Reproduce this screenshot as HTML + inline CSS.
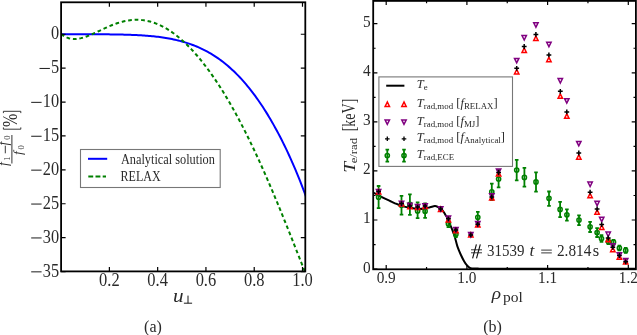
<!DOCTYPE html>
<html><head><meta charset="utf-8"><style>
html,body{margin:0;padding:0;background:#fff;width:637px;height:335px;overflow:hidden}
svg{display:block;font-family:"Liberation Serif",serif}
text{fill:#2a2a2a}
</style></head><body>
<svg width="637" height="335" viewBox="0 0 637 335" style="will-change:transform">
<rect width="637" height="335" fill="#fff"/>
<defs><clipPath id="cl"><rect x="61.1" y="2.3" width="244.2" height="269.1"/></clipPath>
<clipPath id="cr"><rect x="373.2" y="0.9" width="262.7" height="268.4"/></clipPath></defs>
<g clip-path="url(#cl)" fill="none" stroke-width="2">
<path d="M61.10 34.25 L62.64 34.25 L64.18 34.25 L65.72 34.25 L67.26 34.25 L68.80 34.25 L70.34 34.25 L71.88 34.25 L73.42 34.25 L74.96 34.25 L76.50 34.25 L78.04 34.25 L79.58 34.25 L81.12 34.25 L82.66 34.25 L84.20 34.26 L85.74 34.26 L87.28 34.26 L88.82 34.26 L90.36 34.26 L91.91 34.27 L93.45 34.27 L94.99 34.28 L96.53 34.28 L98.07 34.29 L99.61 34.30 L101.15 34.30 L102.69 34.31 L104.23 34.32 L105.77 34.33 L107.31 34.35 L108.85 34.36 L110.39 34.38 L111.93 34.40 L113.47 34.42 L115.01 34.44 L116.55 34.46 L118.09 34.49 L119.63 34.52 L121.17 34.55 L122.71 34.59 L124.25 34.63 L125.79 34.67 L127.33 34.72 L128.87 34.77 L130.41 34.82 L131.95 34.88 L133.49 34.94 L135.03 35.01 L136.57 35.08 L138.11 35.16 L139.65 35.25 L141.19 35.34 L142.73 35.44 L144.27 35.54 L145.81 35.65 L147.35 35.77 L148.89 35.90 L150.43 36.04 L151.97 36.18 L153.52 36.34 L155.06 36.50 L156.60 36.68 L158.14 36.86 L159.68 37.06 L161.22 37.26 L162.76 37.48 L164.30 37.72 L165.84 37.96 L167.38 38.22 L168.92 38.50 L170.46 38.78 L172.00 39.09 L173.54 39.41 L175.08 39.74 L176.62 40.10 L178.16 40.47 L179.70 40.86 L181.24 41.26 L182.78 41.69 L184.32 42.14 L185.86 42.61 L187.40 43.10 L188.94 43.61 L190.48 44.14 L192.02 44.70 L193.56 45.28 L195.10 45.89 L196.64 46.52 L198.18 47.18 L199.72 47.87 L201.26 48.58 L202.80 49.32 L204.34 50.09 L205.88 50.89 L207.42 51.72 L208.96 52.58 L210.50 53.47 L212.04 54.39 L213.58 55.35 L215.13 56.34 L216.67 57.37 L218.21 58.43 L219.75 59.52 L221.29 60.65 L222.83 61.82 L224.37 63.03 L225.91 64.27 L227.45 65.55 L228.99 66.87 L230.53 68.23 L232.07 69.64 L233.61 71.08 L235.15 72.57 L236.69 74.09 L238.23 75.66 L239.77 77.28 L241.31 78.94 L242.85 80.64 L244.39 82.39 L245.93 84.18 L247.47 86.02 L249.01 87.90 L250.55 89.84 L252.09 91.82 L253.63 93.85 L255.17 95.93 L256.71 98.05 L258.25 100.23 L259.79 102.46 L261.33 104.74 L262.87 107.07 L264.41 109.45 L265.95 111.89 L267.49 114.38 L269.03 116.92 L270.57 119.52 L272.11 122.17 L273.65 124.88 L275.19 127.64 L276.74 130.47 L278.28 133.35 L279.82 136.29 L281.36 139.29 L282.90 142.36 L284.44 145.48 L285.98 148.67 L287.52 151.93 L289.06 155.25 L290.60 158.64 L292.14 162.09 L293.68 165.62 L295.22 169.23 L296.76 172.90 L298.30 176.66 L299.84 180.49 L301.38 184.41 L302.92 188.41 L304.46 192.49 L306.00 196.67" stroke="#0000ff"/>
<path d="M61.10 33.93 L62.63 35.14 L64.17 36.15 L65.70 36.99 L67.24 37.67 L68.77 38.20 L70.30 38.58 L71.84 38.83 L73.37 38.96 L74.91 38.99 L76.44 38.91 L77.97 38.73 L79.51 38.48 L81.04 38.15 L82.58 37.75 L84.11 37.29 L85.64 36.78 L87.18 36.22 L88.71 35.62 L90.25 34.99 L91.78 34.33 L93.31 33.65 L94.85 32.95 L96.38 32.23 L97.92 31.51 L99.45 30.79 L100.98 30.06 L102.52 29.34 L104.05 28.62 L105.58 27.92 L107.12 27.23 L108.65 26.56 L110.19 25.91 L111.72 25.28 L113.25 24.67 L114.79 24.10 L116.32 23.55 L117.86 23.03 L119.39 22.55 L120.92 22.10 L122.46 21.69 L123.99 21.32 L125.53 20.98 L127.06 20.68 L128.59 20.43 L130.13 20.22 L131.66 20.05 L133.20 19.92 L134.73 19.84 L136.26 19.81 L137.80 19.82 L139.33 19.87 L140.87 19.97 L142.40 20.12 L143.93 20.32 L145.47 20.56 L147.00 20.85 L148.54 21.18 L150.07 21.57 L151.60 22.00 L153.14 22.48 L154.67 23.00 L156.21 23.58 L157.74 24.20 L159.27 24.86 L160.81 25.58 L162.34 26.34 L163.88 27.15 L165.41 28.00 L166.94 28.90 L168.48 29.85 L170.01 30.84 L171.55 31.87 L173.08 32.96 L174.61 34.08 L176.15 35.26 L177.68 36.47 L179.22 37.73 L180.75 39.04 L182.28 40.39 L183.82 41.78 L185.35 43.22 L186.88 44.70 L188.42 46.22 L189.95 47.79 L191.49 49.40 L193.02 51.05 L194.55 52.74 L196.09 54.48 L197.62 56.26 L199.16 58.08 L200.69 59.94 L202.22 61.84 L203.76 63.79 L205.29 65.77 L206.83 67.80 L208.36 69.87 L209.89 71.98 L211.43 74.13 L212.96 76.32 L214.50 78.55 L216.03 80.83 L217.56 83.14 L219.10 85.50 L220.63 87.89 L222.17 90.33 L223.70 92.80 L225.23 95.32 L226.77 97.87 L228.30 100.47 L229.84 103.10 L231.37 105.77 L232.90 108.49 L234.44 111.24 L235.97 114.03 L237.51 116.87 L239.04 119.74 L240.57 122.64 L242.11 125.59 L243.64 128.58 L245.18 131.60 L246.71 134.66 L248.24 137.75 L249.78 140.89 L251.31 144.06 L252.85 147.26 L254.38 150.51 L255.91 153.78 L257.45 157.09 L258.98 160.44 L260.52 163.82 L262.05 167.23 L263.58 170.67 L265.12 174.14 L266.65 177.65 L268.18 181.18 L269.72 184.74 L271.25 188.34 L272.79 191.95 L274.32 195.60 L275.85 199.27 L277.39 202.96 L278.92 206.68 L280.46 210.42 L281.99 214.17 L283.52 217.95 L285.06 221.75 L286.59 225.56 L288.13 229.38 L289.66 233.22 L291.19 237.07 L292.73 240.93 L294.26 244.80 L295.80 248.67 L297.33 252.55 L298.86 256.43 L300.40 260.31 L301.93 264.19 L303.47 268.07 L305.00 271.94" stroke="#008000" stroke-dasharray="3.7 2.82"/>
</g>
<path d="M109.38 271.40V266.90 M109.38 2.30V6.80 M157.66 271.40V266.90 M157.66 2.30V6.80 M205.94 271.40V266.90 M205.94 2.30V6.80 M254.22 271.40V266.90 M254.22 2.30V6.80 M302.50 271.40V266.90 M302.50 2.30V6.80 M61.10 34.25H65.60 M305.30 34.25H300.80 M61.10 68.15H65.60 M305.30 68.15H300.80 M61.10 102.05H65.60 M305.30 102.05H300.80 M61.10 135.95H65.60 M305.30 135.95H300.80 M61.10 169.85H65.60 M305.30 169.85H300.80 M61.10 203.75H65.60 M305.30 203.75H300.80 M61.10 237.65H65.60 M305.30 237.65H300.80 M61.10 271.55H65.60 M305.30 271.55H300.80" stroke="#000" stroke-width="1.2" fill="none"/>
<rect x="61.1" y="2.3" width="244.2" height="269.1" fill="none" stroke="#000" stroke-width="1.8"/>
<text font-family="Liberation Serif" font-size="18.5" x="59.10" y="39.25" text-anchor="end" textLength="8.14" lengthAdjust="spacingAndGlyphs">0</text>
<text font-family="Liberation Serif" font-size="18.5" x="59.10" y="73.15" text-anchor="end" textLength="8.14" lengthAdjust="spacingAndGlyphs">5</text>
<text font-family="Liberation Serif" font-size="18.5" x="59.10" y="107.05" text-anchor="end" textLength="16.28" lengthAdjust="spacingAndGlyphs">10</text>
<text font-family="Liberation Serif" font-size="18.5" x="59.10" y="140.95" text-anchor="end" textLength="16.28" lengthAdjust="spacingAndGlyphs">15</text>
<text font-family="Liberation Serif" font-size="18.5" x="59.10" y="174.85" text-anchor="end" textLength="16.28" lengthAdjust="spacingAndGlyphs">20</text>
<text font-family="Liberation Serif" font-size="18.5" x="59.10" y="208.75" text-anchor="end" textLength="16.28" lengthAdjust="spacingAndGlyphs">25</text>
<text font-family="Liberation Serif" font-size="18.5" x="59.10" y="242.65" text-anchor="end" textLength="16.28" lengthAdjust="spacingAndGlyphs">30</text>
<text font-family="Liberation Serif" font-size="18.5" x="59.10" y="276.55" text-anchor="end" textLength="16.28" lengthAdjust="spacingAndGlyphs">35</text>
<path d="M39.50 68.45H49.90 M31.20 102.35H41.60 M31.20 136.25H41.60 M31.20 170.15H41.60 M31.20 204.05H41.60 M31.20 237.95H41.60 M31.20 271.85H41.60" stroke="#000" stroke-width="0.9"/>
<text font-family="Liberation Serif" font-size="18.5" x="109.38" y="285.70" text-anchor="middle" textLength="20.58" lengthAdjust="spacingAndGlyphs">0.2</text>
<text font-family="Liberation Serif" font-size="18.5" x="157.66" y="285.70" text-anchor="middle" textLength="20.58" lengthAdjust="spacingAndGlyphs">0.4</text>
<text font-family="Liberation Serif" font-size="18.5" x="205.94" y="285.70" text-anchor="middle" textLength="20.58" lengthAdjust="spacingAndGlyphs">0.6</text>
<text font-family="Liberation Serif" font-size="18.5" x="254.22" y="285.70" text-anchor="middle" textLength="20.58" lengthAdjust="spacingAndGlyphs">0.8</text>
<text font-family="Liberation Serif" font-size="18.5" x="302.50" y="285.70" text-anchor="middle" textLength="20.58" lengthAdjust="spacingAndGlyphs">1.0</text>
<text font-family="Liberation Serif" font-style="italic" font-size="18" x="173.1" y="301.6" textLength="10.6" lengthAdjust="spacingAndGlyphs">u</text>
<path d="M188 295.6V303.2M183.9 303.2H192.1" stroke="#000" stroke-width="0.9" fill="none"/>
<g transform="translate(0,170) rotate(-90)" font-family="Liberation Serif" fill="#000">
<path d="M6.5 11.9H35" stroke="#333" stroke-width="1"/>
<text x="4.0" y="7.6" font-size="14" font-style="italic">f</text>
<text x="9.3" y="10.2" font-size="8.5">1</text>
<path d="M16.7 5.3H24.3" stroke="#222" stroke-width="0.9"/>
<text x="24.6" y="7.6" font-size="14" font-style="italic">f</text>
<text x="30.2" y="10.2" font-size="8.5">0</text>
<text x="15.0" y="21.6" font-size="13.5" font-style="italic">f</text>
<text x="20.6" y="23.6" font-size="8.5">0</text>
<path d="M42.6 3.4H40.8V20.8H42.6M56.9 3.4H58.7V20.8H56.9" stroke="#222" stroke-width="0.9" fill="none"/>
<text x="42.96" y="16.9" font-size="20" textLength="13.2" lengthAdjust="spacingAndGlyphs">%</text>
</g>
<rect x="80.5" y="149.5" width="139.7" height="38" fill="#fff" stroke="#777" stroke-width="1.1"/>
<path d="M88 158.8H107.2" stroke="#0000ff" stroke-width="2"/>
<path d="M88.3 176.6H106" stroke="#008000" stroke-width="2" stroke-dasharray="4.9 2.3"/>
<text font-family="Liberation Serif" font-size="14" x="120.9" y="163.8" textLength="94" lengthAdjust="spacingAndGlyphs">Analytical solution</text>
<text font-family="Liberation Serif" font-size="14" x="120.6" y="181" textLength="40" lengthAdjust="spacingAndGlyphs">RELAX</text>
<text font-family="Liberation Serif" font-size="16" x="153" y="332" text-anchor="middle">(a)</text>
<g clip-path="url(#cr)">
<path d="M373.20 192.60 C374.00 193.00 376.03 194.00 378.00 195.00 C379.97 196.00 383.00 197.60 385.00 198.60 C387.00 199.60 388.33 200.22 390.00 201.00 C391.67 201.78 393.17 202.53 395.00 203.30 C396.83 204.07 398.50 204.85 401.00 205.60 C403.50 206.35 407.17 207.23 410.00 207.80 C412.83 208.37 415.50 208.90 418.00 209.00 C420.50 209.10 423.00 208.68 425.00 208.40 C427.00 208.12 428.37 207.68 430.00 207.30 C431.63 206.92 433.60 206.22 434.80 206.10 C436.00 205.98 436.25 206.15 437.20 206.60 C438.15 207.05 439.52 208.05 440.50 208.80 C441.48 209.55 442.30 210.12 443.10 211.10 C443.90 212.08 444.50 213.40 445.30 214.70 C446.10 216.00 447.17 217.40 447.90 218.90 C448.63 220.40 449.10 222.20 449.70 223.70 C450.30 225.20 450.90 226.42 451.50 227.90 C452.10 229.38 452.70 230.92 453.30 232.60 C453.90 234.28 454.42 235.70 455.10 238.00 C455.78 240.30 456.47 243.65 457.40 246.40 C458.33 249.15 459.58 252.03 460.70 254.50 C461.82 256.97 463.08 259.42 464.10 261.20 C465.12 262.98 465.92 264.13 466.80 265.20 C467.68 266.27 468.53 267.07 469.40 267.60 C470.27 268.13 470.57 268.23 472.00 268.40 C473.43 268.57 475.00 268.55 478.00 268.60 C481.00 268.65 463.67 268.67 490.00 268.70 C516.33 268.73 611.67 268.78 636.00 268.80" stroke="#000" stroke-width="2" fill="none"/>
<path d="M378.60 186.00V208.10 M376.80 186.00H380.40 M376.80 208.10H380.40 M401.50 195.90V214.60 M399.70 195.90H403.30 M399.70 214.60H403.30 M409.90 194.40V214.80 M408.10 194.40H411.70 M408.10 214.80H411.70 M417.60 202.40V218.20 M415.80 202.40H419.40 M415.80 218.20H419.40 M425.10 203.40V217.80 M423.30 203.40H426.90 M423.30 217.80H426.90 M448.40 220.50V227.20 M446.60 220.50H450.20 M446.60 227.20H450.20 M455.90 231.00V237.20 M454.10 231.00H457.70 M454.10 237.20H457.70 M477.80 211.90V222.60 M476.00 211.90H479.60 M476.00 222.60H479.60 M491.80 183.70V200.20 M490.00 183.70H493.60 M490.00 200.20H493.60 M498.60 170.00V187.40 M496.80 170.00H500.40 M496.80 187.40H500.40 M516.70 159.80V180.40 M514.90 159.80H518.50 M514.90 180.40H518.50 M524.40 167.90V186.70 M522.60 167.90H526.20 M522.60 186.70H526.20 M536.00 172.40V191.60 M534.20 172.40H537.80 M534.20 191.60H537.80 M549.00 191.50V205.80 M547.20 191.50H550.80 M547.20 205.80H550.80 M560.10 201.90V217.10 M558.30 201.90H561.90 M558.30 217.10H561.90 M566.90 209.40V220.70 M565.10 209.40H568.70 M565.10 220.70H568.70 M579.00 215.30V225.20 M577.20 215.30H580.80 M577.20 225.20H580.80 M590.10 221.80V232.00 M588.30 221.80H591.90 M588.30 232.00H591.90 M597.10 228.20V237.00 M595.30 228.20H598.90 M595.30 237.00H598.90 M601.50 235.20V241.80 M599.70 235.20H603.30 M599.70 241.80H603.30 M608.40 239.00V244.20 M606.60 239.00H610.20 M606.60 244.20H610.20 M613.50 239.80V244.60 M611.70 239.80H615.30 M611.70 244.60H615.30 M619.40 245.60V250.40 M617.60 245.60H621.20 M617.60 250.40H621.20 M625.70 248.00V252.80 M623.90 248.00H627.50 M623.90 252.80H627.50" stroke="#008000" stroke-width="1.8" fill="none"/>
<g fill="none" stroke="#008000" stroke-width="1.5"><circle cx="378.60" cy="197.20" r="2.1"/><circle cx="401.50" cy="205.30" r="2.1"/><circle cx="409.90" cy="204.40" r="2.1"/><circle cx="417.60" cy="211.00" r="2.1"/><circle cx="425.10" cy="211.20" r="2.1"/><circle cx="448.40" cy="223.80" r="2.1"/><circle cx="455.90" cy="234.20" r="2.1"/><circle cx="477.80" cy="217.30" r="2.1"/><circle cx="491.80" cy="191.90" r="2.1"/><circle cx="498.60" cy="179.00" r="2.1"/><circle cx="516.70" cy="170.10" r="2.1"/><circle cx="524.40" cy="177.40" r="2.1"/><circle cx="536.00" cy="181.90" r="2.1"/><circle cx="549.00" cy="198.30" r="2.1"/><circle cx="560.10" cy="209.40" r="2.1"/><circle cx="566.90" cy="214.80" r="2.1"/><circle cx="579.00" cy="220.10" r="2.1"/><circle cx="590.10" cy="226.80" r="2.1"/><circle cx="597.10" cy="232.50" r="2.1"/><circle cx="601.50" cy="238.50" r="2.1"/><circle cx="608.40" cy="241.60" r="2.1"/><circle cx="613.50" cy="242.20" r="2.1"/><circle cx="619.40" cy="248.00" r="2.1"/><circle cx="625.70" cy="250.40" r="2.1"/></g>
<path d="M378.60 189.60L376.40 194.00L380.80 194.00Z M401.50 201.60L399.30 206.00L403.70 206.00Z M409.90 204.30L407.70 208.70L412.10 208.70Z M417.60 205.00L415.40 209.40L419.80 209.40Z M425.10 204.10L422.90 208.50L427.30 208.50Z M440.70 207.00L438.50 211.40L442.90 211.40Z M448.40 217.50L446.20 221.90L450.60 221.90Z M455.90 228.30L453.70 232.70L458.10 232.70Z M470.80 232.70L468.60 237.10L473.00 237.10Z M477.80 222.50L475.60 226.90L480.00 226.90Z M491.80 195.50L489.60 199.90L494.00 199.90Z M498.60 171.60L496.40 176.00L500.80 176.00Z M516.70 69.50L514.50 73.90L518.90 73.90Z M524.20 48.00L522.00 52.40L526.40 52.40Z M535.90 36.10L533.70 40.50L538.10 40.50Z M548.90 57.30L546.70 61.70L551.10 61.70Z M560.30 93.90L558.10 98.30L562.50 98.30Z M566.80 113.80L564.60 118.20L569.00 118.20Z M578.80 154.80L576.60 159.20L581.00 159.20Z M590.10 193.40L587.90 197.80L592.30 197.80Z M597.10 209.80L594.90 214.20L599.30 214.20Z M601.70 225.00L599.50 229.40L603.90 229.40Z M608.20 237.30L606.00 241.70L610.40 241.70Z M612.80 247.30L610.60 251.70L615.00 251.70Z M619.40 254.90L617.20 259.30L621.60 259.30Z M625.70 259.60L623.50 264.00L627.90 264.00Z" stroke="#ff0000" stroke-width="1.5" fill="none" stroke-linejoin="miter"/>
<path d="M378.60 193.90L376.40 189.50L380.80 189.50Z M401.50 205.70L399.30 201.30L403.70 201.30Z M409.90 207.70L407.70 203.30L412.10 203.30Z M417.60 208.90L415.40 204.50L419.80 204.50Z M425.10 208.10L422.90 203.70L427.30 203.70Z M440.70 211.10L438.50 206.70L442.90 206.70Z M448.40 220.50L446.20 216.10L450.60 216.10Z M455.90 231.80L453.70 227.40L458.10 227.40Z M470.80 237.00L468.60 232.60L473.00 232.60Z M477.80 226.00L475.60 221.60L480.00 221.60Z M491.80 198.20L489.60 193.80L494.00 193.80Z M498.60 173.40L496.40 169.00L500.80 169.00Z M516.70 62.80L514.50 58.40L518.90 58.40Z M524.20 40.00L522.00 35.60L526.40 35.60Z M535.90 27.20L533.70 22.80L538.10 22.80Z M548.90 46.70L546.70 42.30L551.10 42.30Z M560.30 83.00L558.10 78.60L562.50 78.60Z M566.80 103.10L564.60 98.70L569.00 98.70Z M578.80 145.80L576.60 141.40L581.00 141.40Z M590.10 186.50L587.90 182.10L592.30 182.10Z M597.10 205.70L594.90 201.30L599.30 201.30Z M601.70 221.70L599.50 217.30L603.90 217.30Z M608.20 236.50L606.00 232.10L610.40 232.10Z M612.80 248.20L610.60 243.80L615.00 243.80Z M619.40 257.20L617.20 252.80L621.60 252.80Z M625.70 262.90L623.50 258.50L627.90 258.50Z" stroke="#800080" stroke-width="1.5" fill="none"/>
<path d="M376.20 191.60H381.00M378.60 189.20V194.00 M399.10 203.60H403.90M401.50 201.20V206.00 M407.50 206.00H412.30M409.90 203.60V208.40 M415.20 207.10H420.00M417.60 204.70V209.50 M422.70 206.10H427.50M425.10 203.70V208.50 M438.30 209.00H443.10M440.70 206.60V211.40 M446.00 218.80H450.80M448.40 216.40V221.20 M453.50 229.90H458.30M455.90 227.50V232.30 M468.40 234.90H473.20M470.80 232.50V237.30 M475.40 224.30H480.20M477.80 221.90V226.70 M489.40 196.90H494.20M491.80 194.50V199.30 M496.20 172.50H501.00M498.60 170.10V174.90 M514.30 68.30H519.10M516.70 65.90V70.70 M521.80 46.50H526.60M524.20 44.10V48.90 M533.50 34.40H538.30M535.90 32.00V36.80 M546.50 54.90H551.30M548.90 52.50V57.30 M557.90 91.30H562.70M560.30 88.90V93.70 M564.40 111.90H569.20M566.80 109.50V114.30 M576.40 153.00H581.20M578.80 150.60V155.40 M587.70 192.20H592.50M590.10 189.80V194.60 M594.70 209.00H599.50M597.10 206.60V211.40 M599.30 224.60H604.10M601.70 222.20V227.00 M605.80 237.90H610.60M608.20 235.50V240.30 M610.40 247.30H615.20M612.80 244.90V249.70 M617.00 255.50H621.80M619.40 253.10V257.90 M623.30 261.80H628.10M625.70 259.40V264.20" stroke="#000" stroke-width="1.5" fill="none"/>
</g>
<path d="M386.20 269.30V265.10 M386.20 0.90V5.10 M426.55 269.30V266.90 M426.55 0.90V3.30 M466.90 269.30V265.10 M466.90 0.90V5.10 M507.25 269.30V266.90 M507.25 0.90V3.30 M547.60 269.30V265.10 M547.60 0.90V5.10 M587.95 269.30V266.90 M587.95 0.90V3.30 M628.30 269.30V265.10 M628.30 0.90V5.10 M373.20 269.10H377.40 M635.90 269.10H631.70 M373.20 244.56H375.60 M635.90 244.56H633.50 M373.20 220.02H377.40 M635.90 220.02H631.70 M373.20 195.48H375.60 M635.90 195.48H633.50 M373.20 170.94H377.40 M635.90 170.94H631.70 M373.20 146.40H375.60 M635.90 146.40H633.50 M373.20 121.86H377.40 M635.90 121.86H631.70 M373.20 97.32H375.60 M635.90 97.32H633.50 M373.20 72.78H377.40 M635.90 72.78H631.70 M373.20 48.24H375.60 M635.90 48.24H633.50 M373.20 23.70H377.40 M635.90 23.70H631.70" stroke="#000" stroke-width="1.2" fill="none"/>
<rect x="373.2" y="0.9" width="262.7" height="268.4" fill="none" stroke="#000" stroke-width="1.8"/>
<text font-family="Liberation Serif" font-size="16.3" x="370.60" y="272.50" text-anchor="end" textLength="7.66" lengthAdjust="spacingAndGlyphs">0</text>
<text font-family="Liberation Serif" font-size="16.3" x="370.60" y="223.42" text-anchor="end" textLength="7.66" lengthAdjust="spacingAndGlyphs">1</text>
<text font-family="Liberation Serif" font-size="16.3" x="370.60" y="174.34" text-anchor="end" textLength="7.66" lengthAdjust="spacingAndGlyphs">2</text>
<text font-family="Liberation Serif" font-size="16.3" x="370.60" y="125.26" text-anchor="end" textLength="7.66" lengthAdjust="spacingAndGlyphs">3</text>
<text font-family="Liberation Serif" font-size="16.3" x="370.60" y="76.18" text-anchor="end" textLength="7.66" lengthAdjust="spacingAndGlyphs">4</text>
<text font-family="Liberation Serif" font-size="16.3" x="370.60" y="27.10" text-anchor="end" textLength="7.66" lengthAdjust="spacingAndGlyphs">5</text>
<text font-family="Liberation Serif" font-size="16.3" x="386.20" y="283.00" text-anchor="middle" textLength="19.15" lengthAdjust="spacingAndGlyphs">0.9</text>
<text font-family="Liberation Serif" font-size="16.3" x="466.90" y="283.00" text-anchor="middle" textLength="19.15" lengthAdjust="spacingAndGlyphs">1.0</text>
<text font-family="Liberation Serif" font-size="16.3" x="547.60" y="283.00" text-anchor="middle" textLength="19.15" lengthAdjust="spacingAndGlyphs">1.1</text>
<text font-family="Liberation Serif" font-size="16.3" x="628.30" y="283.00" text-anchor="middle" textLength="19.15" lengthAdjust="spacingAndGlyphs">1.2</text>
<text font-family="Liberation Serif" font-size="17.5" font-style="italic" x="491.8" y="298.8" textLength="9.3" lengthAdjust="spacingAndGlyphs">ρ</text>
<text font-family="Liberation Serif" font-size="15.5" x="503" y="302">pol</text>
<g transform="translate(354.8,172) rotate(-90)" font-family="Liberation Serif" fill="#000">
<text x="-0.88" y="0" font-size="17" font-style="italic" textLength="10.9" lengthAdjust="spacingAndGlyphs">T</text>
<text x="8.7" y="1.9" font-size="10.3" textLength="25.4" lengthAdjust="spacingAndGlyphs">e/rad</text>
<text x="40.7" y="0.3" font-size="18" textLength="32.6" lengthAdjust="spacingAndGlyphs">[keV]</text>
</g>
<path d="M471 249.8H482M471 252.8H482" stroke="#222" stroke-width="0.9" fill="none"/>
<path d="M476.4 244.4L472.6 258.4M480.3 244.4L476.5 258.4" stroke="#111" stroke-width="1.15" fill="none"/>
<text font-family="Liberation Serif" font-size="16" x="487.0" y="255.6" textLength="37.4" lengthAdjust="spacingAndGlyphs">31539</text>
<text font-family="Liberation Serif" font-size="17.5" font-style="italic" x="529.4" y="255.7">t</text>
<path d="M541.2 250.1H551.8M541.2 252.9H551.8" stroke="#222" stroke-width="0.9" fill="none"/>
<text font-family="Liberation Serif" font-size="16" x="557.0" y="255.6" textLength="34.3" lengthAdjust="spacingAndGlyphs">2.814</text>
<text font-family="Liberation Serif" font-size="16.5" x="592.8" y="255.6">s</text>
<rect x="378.9" y="76.9" width="133.6" height="89.5" fill="#fff" stroke="#777" stroke-width="1.1"/>
<path d="M386.2 85.7H404.4" stroke="#000" stroke-width="2"/>
<path d="M387.30 102.00L385.10 106.40L389.50 106.40Z M404.00 102.00L401.80 106.40L406.20 106.40Z" stroke="#ff0000" stroke-width="1.5" fill="none"/>
<path d="M387.30 124.40L385.10 120.00L389.50 120.00Z M404.00 124.40L401.80 120.00L406.20 120.00Z" stroke="#800080" stroke-width="1.5" fill="none"/>
<path d="M385 138.8H389.6M387.3 136.5V141.1M401.7 138.8H406.3M404 136.5V141.1" stroke="#000" stroke-width="1.3"/>
<path d="M387.3 149.6V161.7M385.5 149.6H389.1M385.5 161.7H389.1M404 149.6V161.7M402.2 149.6H405.8M402.2 161.7H405.8" stroke="#008000" stroke-width="1.8" fill="none"/>
<circle cx="387.3" cy="155.5" r="2.1" stroke="#008000" stroke-width="1.5" fill="none"/><circle cx="404" cy="155.5" r="2.1" stroke="#008000" stroke-width="1.5" fill="none"/>
<text font-family="Liberation Serif" font-size="12.5" x="416.8" y="88.3"><tspan font-style="italic">T</tspan><tspan font-size="8.9" dy="2.0">e</tspan></text>
<text font-family="Liberation Serif" font-size="12.5" x="416.8" y="106.5"><tspan font-style="italic">T</tspan><tspan font-size="8.9" dy="2.0">rad,mod</tspan><tspan dy="-2.0"> [</tspan><tspan font-style="italic">f</tspan><tspan font-size="8.9" dy="2.0">RELAX</tspan><tspan dy="-2.0">]</tspan></text>
<text font-family="Liberation Serif" font-size="12.5" x="416.8" y="125.2"><tspan font-style="italic">T</tspan><tspan font-size="8.9" dy="2.0">rad,mod</tspan><tspan dy="-2.0"> [</tspan><tspan font-style="italic">f</tspan><tspan font-size="8.9" dy="2.0">MJ</tspan><tspan dy="-2.0">]</tspan></text>
<text font-family="Liberation Serif" font-size="12.5" x="416.8" y="141.4"><tspan font-style="italic">T</tspan><tspan font-size="8.9" dy="2.0">rad,mod</tspan><tspan dy="-2.0"> [</tspan><tspan font-style="italic">f</tspan><tspan font-size="8.9" dy="2.0">Analytical</tspan><tspan dy="-2.0">]</tspan></text>
<text font-family="Liberation Serif" font-size="12.5" x="416.8" y="158.1"><tspan font-style="italic">T</tspan><tspan font-size="8.9" dy="2.0">rad,ECE</tspan></text>
<text font-family="Liberation Serif" font-size="16" x="492.6" y="332" text-anchor="middle">(b)</text>
</svg>
</body></html>
